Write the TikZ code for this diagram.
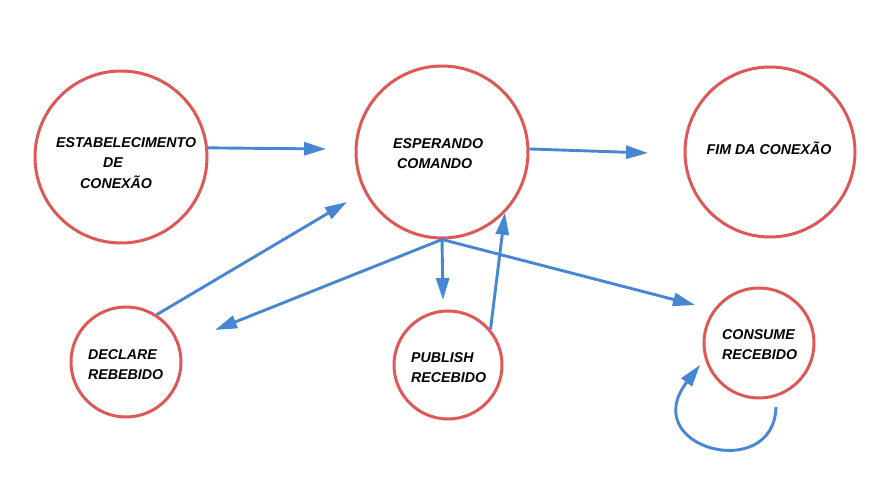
\documentclass[tikz,border=0pt]{standalone}
\usepackage{fontspec}
\setmainfont{Liberation Sans}
\usetikzlibrary{arrows.meta}
\definecolor{statered}{RGB}{222,88,88}
\definecolor{arrowblue}{RGB}{70,134,210}
\tikzset{
    statecircle/.style={circle, draw=statered, line width=3pt, minimum size=#1, inner sep=0pt},
    statetext/.style={font=\bfseries\itshape\fontsize{14.2}{20.5}\selectfont, align=left, inner sep=0pt, anchor=north west},
    transition/.style={draw=arrowblue, line width=2.9pt, -{Triangle[length=22pt,width=13pt]}}
}

\begin{document}
\begin{tikzpicture}[x=1pt, y=-1pt]
    \useasboundingbox (0,0) rectangle (892,494);

    \node[statecircle=172pt] (est) at (121,157) {};
    \node[statecircle=172pt] (esp) at (442,152) {};
    \node[statecircle=170pt] (fim) at (770,152) {};
    \node[statecircle=110pt] (dec) at (126,362) {};
    \node[statecircle=108pt] (pub) at (448,365) {};
    \node[statecircle=110pt] (con) at (759,343) {};

    \node[statetext] (est-txt) at (56,137) {ESTABELECIMENTO\\\hspace*{47pt}DE\\\hspace*{24pt}CONEXÃO};
    \node[statetext] (esp-txt) at (393,138) {ESPERANDO\\\hspace*{4pt}COMANDO};
    \node[statetext, anchor=base] (fim-txt) at (769,155) {FIM DA CONEXÃO};
    \node[statetext] (dec-txt) at (88,349) {DECLARE\\REBEBIDO};
    \node[statetext] (pub-txt) at (411,352) {PUBLISH\\RECEBIDO};
    \node[statetext] (con-txt) at (722,329) {CONSUME\\RECEBIDO};

    \coordinate (est-out) at (326,149);
    \coordinate (esp-out) at (648,153);
    \coordinate (dec-out) at (347,202);
    \coordinate (dec-in) at (215,330);
    \coordinate (pub-in) at (443,300);
    \coordinate (con-in) at (695,305);
    \coordinate (loop-start) at (776,407);
    \coordinate (loop-end) at (700,365);

    \draw[transition] (est.6) -- (est-out);
    \draw[transition] (esp.2) -- (esp-out);
    \draw[transition] (dec.57) -- (dec-out);
    \draw[transition] (esp.south) -- (dec-in);
    \draw[transition] (esp.south) -- (pub-in);
    \draw[transition] (esp.south) -- (con-in);
    \draw[transition] (pub.40) -- (esp.-44);
    \draw[transition] (loop-start) .. controls (774,484) and (636,448) .. (loop-end);
\end{tikzpicture}
\end{document}
